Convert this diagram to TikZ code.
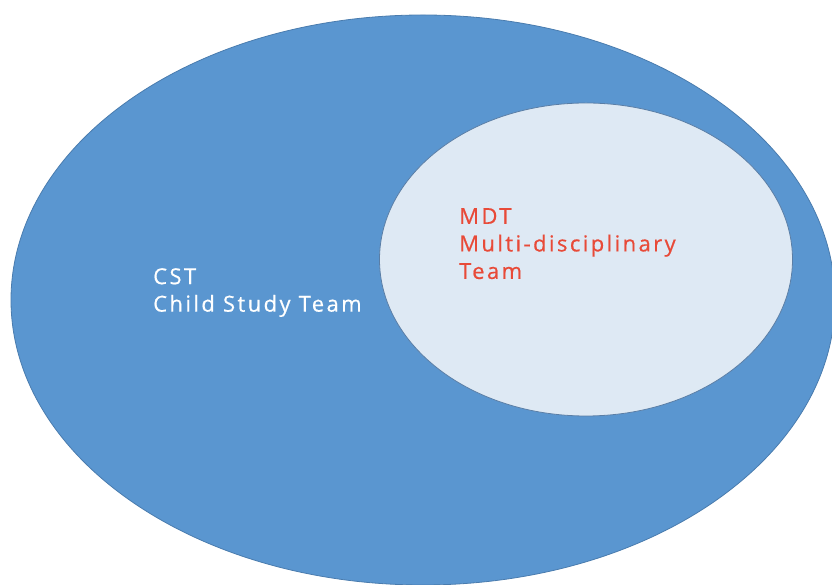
\documentclass[tikz,border=0pt]{standalone}
\usepackage{fontspec}
\setmainfont{Open Sans}
\newfontfamily\labelfont[LetterSpace=11,FakeBold=0.6]{Open Sans}
\definecolor{outerfill}{HTML}{5A96D0}
\definecolor{outerline}{HTML}{4A7CAE}
\definecolor{innerfill}{HTML}{DEE9F4}
\definecolor{innerline}{HTML}{5A7EA6}
\definecolor{mdtred}{HTML}{E84A38}
\tikzset{
  bubble/.style={line width=0.8pt},
  label/.style={inner sep=0pt, anchor=north west, align=left, font=\labelfont\fontsize{22}{27.5}\selectfont}
}
\begin{document}
\begin{tikzpicture}[x=1pt,y=1pt]
\useasboundingbox (0,0) rectangle (832,585);
\begin{scope}
\clip (0,0) rectangle (832,585);
\draw[bubble, fill=outerfill, draw=outerline] (423,285) ellipse [x radius=412, y radius=285];
\end{scope}
\draw[bubble, fill=innerfill, draw=innerline] (586,325.5) ellipse [x radius=206.5, y radius=156.5];
\node[label, text=white] (cst) at (153,317) {CST\\Child Study Team};
\node[label, text=mdtred] (mdt) at (459,377) {MDT\\Multi-disciplinary\\Team};
\end{tikzpicture}
\end{document}
